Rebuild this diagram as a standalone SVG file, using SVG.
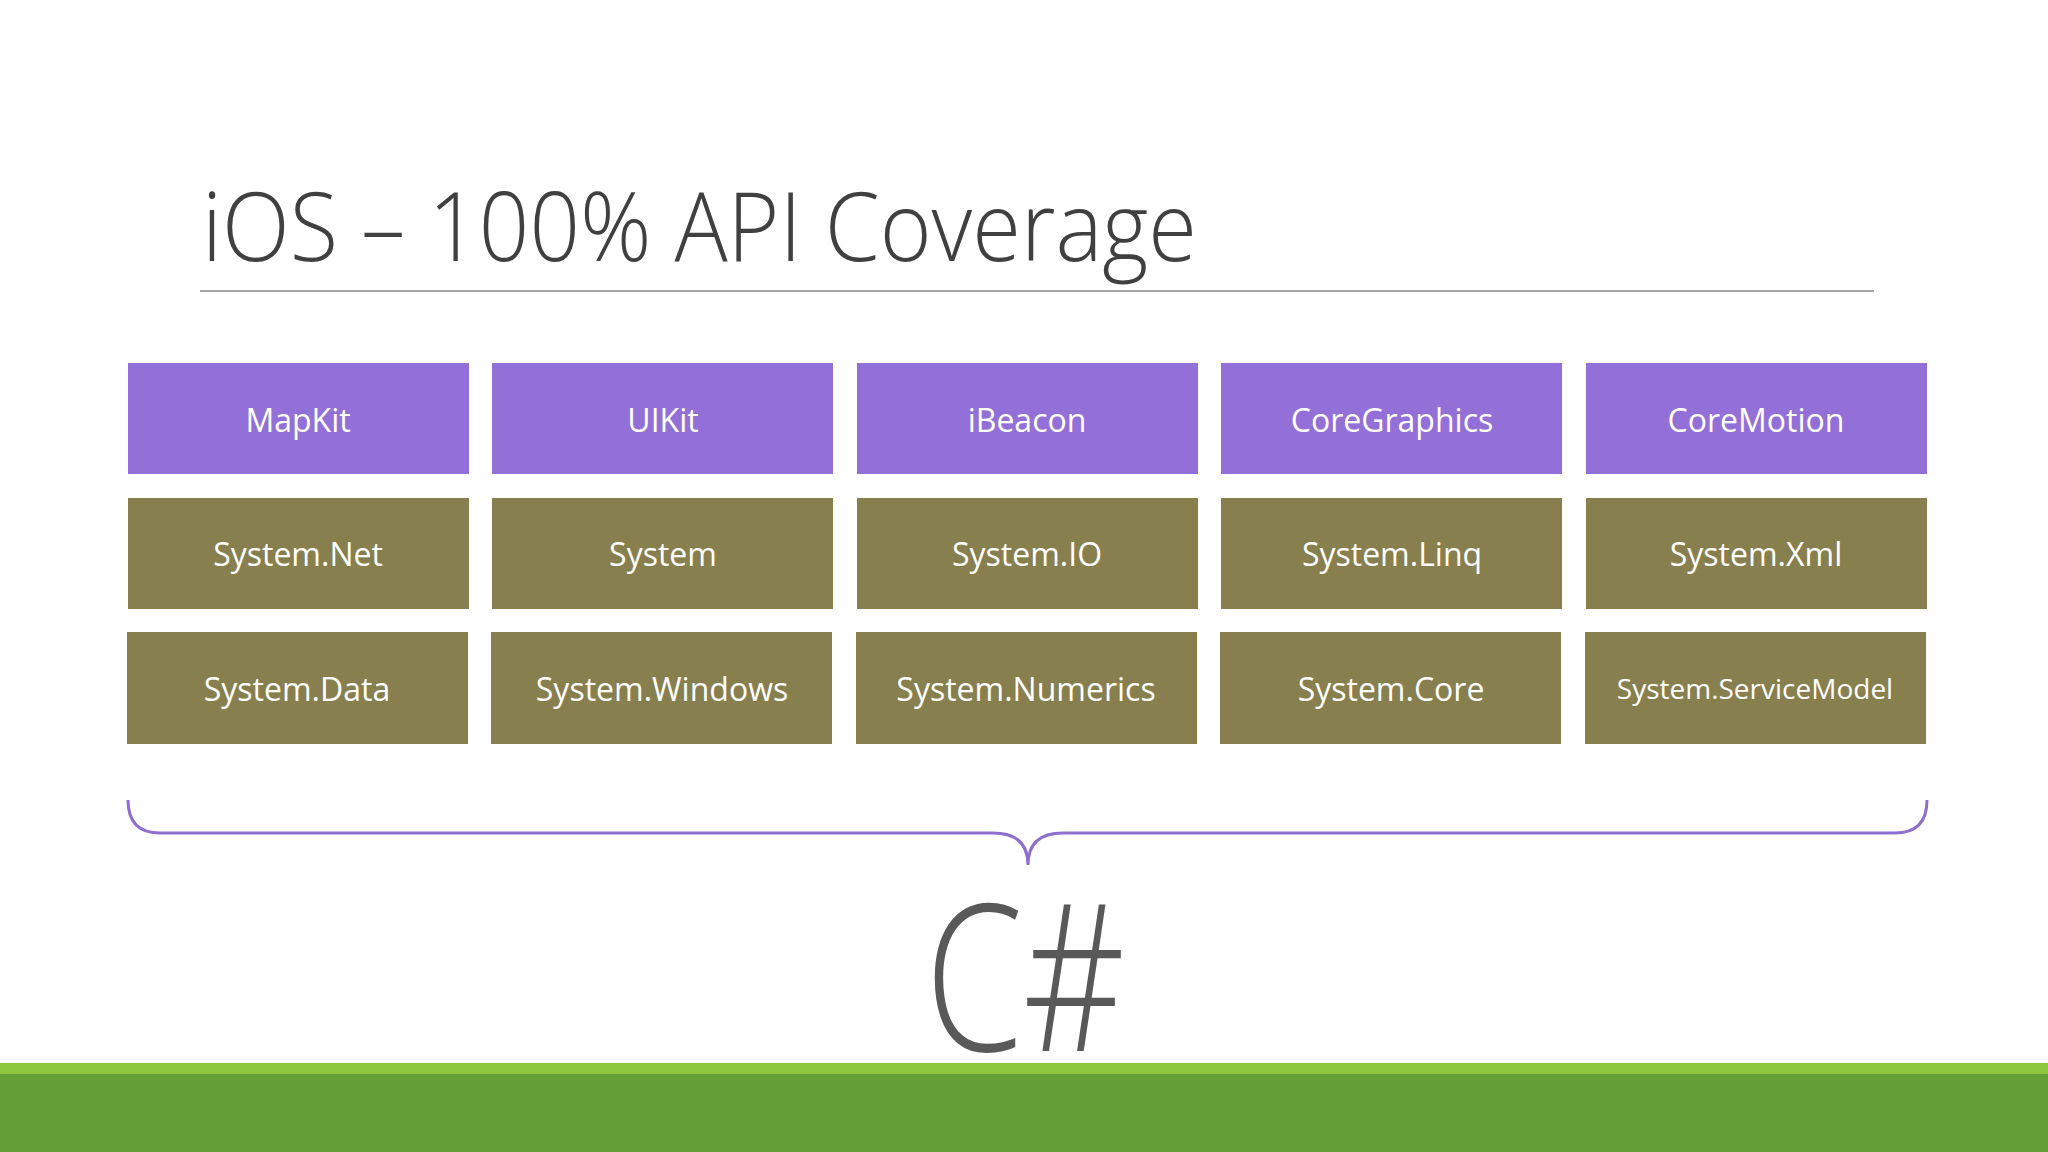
<svg xmlns="http://www.w3.org/2000/svg" width="2048" height="1152" viewBox="0 0 2048 1152">
<style>
.p{fill:#9370d8}.o{fill:#877f4d}
.t{font-family:"Open Sans","Liberation Sans",sans-serif;font-size:32px;fill:#fff;text-anchor:middle}
</style>
<rect width="2048" height="1152" fill="#fff"/>
<text x="202" y="261" font-family="Open Sans, Liberation Sans, sans-serif" font-weight="300" font-size="96" fill="#404040" textLength="995" lengthAdjust="spacingAndGlyphs">iOS – 100% API Coverage</text>
<line x1="200" y1="291" x2="1874" y2="291" stroke="#a6a6a6" stroke-width="2"/>
<g id="row1">
<g id="mapkit"><rect class="p" x="128" y="363" width="341" height="111"/><text class="t" x="298" y="432">MapKit</text></g>
<g id="uikit"><rect class="p" x="492" y="363" width="341" height="111"/><text class="t" x="663" y="432">UIKit</text></g>
<g id="ibeacon"><rect class="p" x="857" y="363" width="341" height="111"/><text class="t" x="1027" y="432">iBeacon</text></g>
<g id="coregraphics"><rect class="p" x="1221" y="363" width="341" height="111"/><text class="t" x="1392" y="432">CoreGraphics</text></g>
<g id="coremotion"><rect class="p" x="1586" y="363" width="341" height="111"/><text class="t" x="1756" y="432">CoreMotion</text></g>
</g>
<g id="row2">
<g id="sysnet"><rect class="o" x="128" y="498" width="341" height="111"/><text class="t" x="298" y="566">System.Net</text></g>
<g id="system"><rect class="o" x="492" y="498" width="341" height="111"/><text class="t" x="663" y="566">System</text></g>
<g id="sysio"><rect class="o" x="857" y="498" width="341" height="111"/><text class="t" x="1027" y="566">System.IO</text></g>
<g id="syslinq"><rect class="o" x="1221" y="498" width="341" height="111"/><text class="t" x="1392" y="566">System.Linq</text></g>
<g id="sysxml"><rect class="o" x="1586" y="498" width="341" height="111"/><text class="t" x="1756" y="566">System.Xml</text></g>
</g>
<g id="row3">
<g id="sysdata"><rect class="o" x="127" y="632" width="341" height="112"/><text class="t" x="297" y="701">System.Data</text></g>
<g id="syswin"><rect class="o" x="491" y="632" width="341" height="112"/><text class="t" x="662" y="701">System.Windows</text></g>
<g id="sysnum"><rect class="o" x="856" y="632" width="341" height="112"/><text class="t" x="1026" y="701">System.Numerics</text></g>
<g id="syscore"><rect class="o" x="1220" y="632" width="341" height="112"/><text class="t" x="1391" y="701">System.Core</text></g>
<g id="syssm"><rect class="o" x="1585" y="632" width="341" height="112"/><text class="t" x="1755" y="699" style="font-size:28px">System.ServiceModel</text></g>
</g>
<g id="connectors">
<path d="M128 800 Q128 833 160 833 L993 833 Q1028 833 1028 865 Q1028 833 1063 833 L1895 833 Q1927 833 1927 800" fill="none" stroke="#8e6fd0" stroke-width="3"/>
</g>
<g id="csharp"><text x="1025" y="1051" font-family="Open Sans, Liberation Sans, sans-serif" font-weight="300" font-size="205" fill="#595959" text-anchor="middle" textLength="200" lengthAdjust="spacingAndGlyphs">C#</text></g>
<rect x="0" y="1063" width="2048" height="11" fill="#8dc63f"/>
<rect x="0" y="1074" width="2048" height="78" fill="#64a037"/>
</svg>
